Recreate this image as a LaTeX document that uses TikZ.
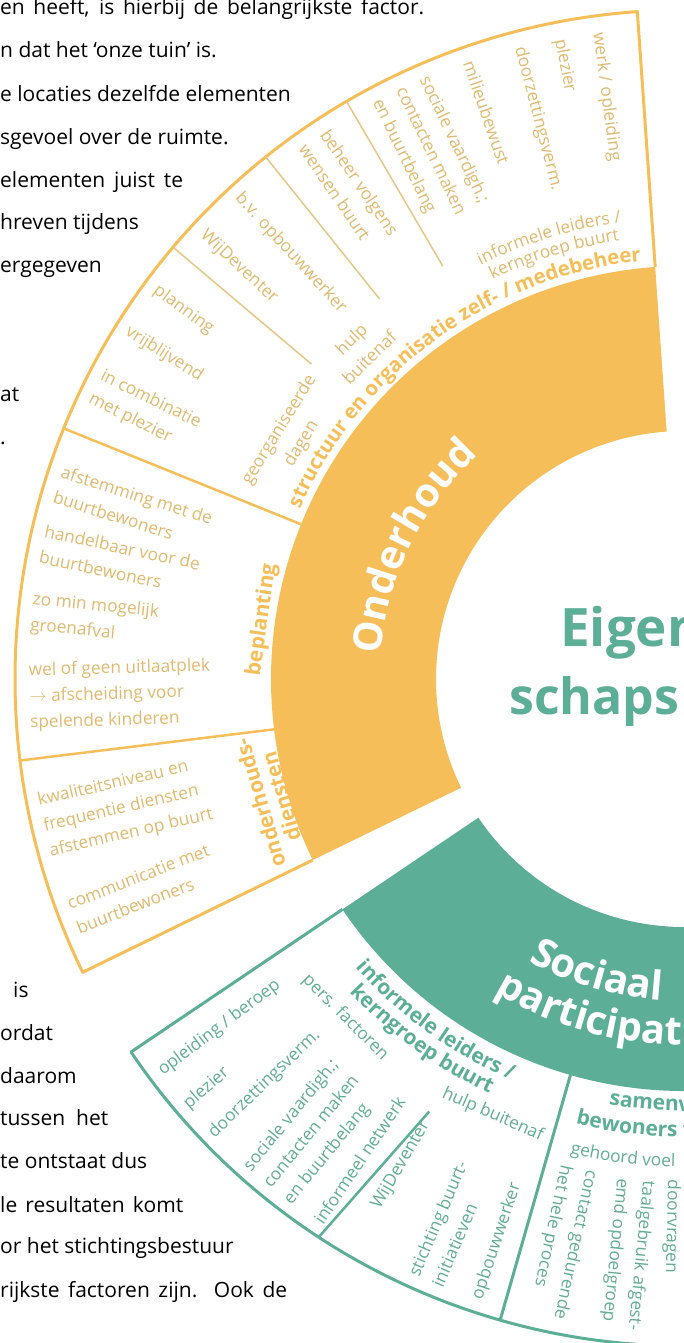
\documentclass[tikz,border=0pt]{standalone}
\usepackage{fontspec}
\setmainfont{Open Sans}
\usetikzlibrary{decorations.text}
\definecolor{O}{RGB}{245,190,88}
\definecolor{Ot}{RGB}{222,186,112}
\definecolor{Ol}{RGB}{228,198,135}
\definecolor{G}{RGB}{92,174,150}
\definecolor{Gt}{RGB}{98,172,148}
\newcommand{\itemfont}{\fontsize{17.3}{26}\selectfont}
\newcommand{\labfont}{\bfseries\fontsize{21}{22}\selectfont}
\newcommand{\bigfont}{\bfseries\fontsize{40}{40}\selectfont}
\tikzset{
  oitem/.style={text=Ot,font=\itemfont,align=left,inner sep=0pt,anchor=west},
  gitem/.style={text=Gt,font=\itemfont,align=left,inner sep=0pt,anchor=west},
  olab/.style={text=O,font=\labfont,align=center,inner sep=0pt},
  body/.style={font=\fontsize{21}{21}\selectfont,inner sep=0pt,anchor=base west},
  arctxt/.style={decorate,decoration={text along path,text align=center,text={#1}}},
  arctxtl/.style={decorate,decoration={text along path,text align=left,text={#1}}}
}
\begin{document}
\begin{tikzpicture}[x=1pt,y=1pt]
  \useasboundingbox (-684,-664) rectangle (0,679);
  \clip (-684,-664) rectangle (0,679);

  %Tekst links
  \node[body] (t1) at (-684,664) {\makebox[424pt][s]{en heeft, is hierbij de belangrijkste factor.}};
  \node[body] (t2) at (-684,621) {n dat het ‘onze tuin’ is.};
  \node[body] (t3) at (-684,577) {e locaties dezelfde elementen};
  \node[body] (t4) at (-684,534) {sgevoel over de ruimte.};
  \node[body] (t5) at (-684,491) {\makebox[183pt][s]{elementen juist te}};
  \node[body] (t6) at (-684,449) {hreven tijdens};
  \node[body] (t7) at (-684,406) {ergegeven};
  \node[body] (t8) at (-684,277) {at};
  \node[body] (t9) at (-684,234) {.};
  \node[body] (b1) at (-671,-318) {is};
  \node[body] (b2) at (-684,-361) {ordat};
  \node[body] (b3) at (-684,-404) {daarom};
  \node[body] (b4) at (-684,-446) {\makebox[108pt][s]{tussen het}};
  \node[body] (b5) at (-684,-489) {te ontstaat dus};
  \node[body] (b6) at (-684,-533) {\makebox[183pt][s]{le resultaten komt}};
  \node[body] (b7) at (-684,-574) {or het stichtingsbestuur};
  \node[body] (b8) at (-684,-618) {\makebox[287pt][s]{rijkste factoren zijn. Ook de}};

  %Ring onderhoud
  \fill[O] (94:248) arc[start angle=94,end angle=206,radius=248] -- (206:413)
    arc[start angle=206,end angle=94,radius=413] -- cycle;
  %Kader onderhoud
  \draw[O,line width=3pt,line join=round] (94:413) -- (94:669)
    arc[start angle=94,end angle=206,radius=669] -- (206:413);
  \draw[O,line width=2.5pt] (158:413) -- (158:669);
  \draw[O,line width=2.5pt] (187:413) -- (187:669);
  \draw[Ol,line width=1.5pt] (120.3:478) -- (120.3:669);
  \draw[Ol,line width=1.5pt] (128.7:487) -- (128.7:669);
  \draw[Ol,line width=1.5pt] (139.8:488) -- (139.8:669);

  %Ring sociaal
  \fill[G] (214:248) arc[start angle=214,end angle=300,radius=248] -- (300:412)
    arc[start angle=300,end angle=214,radius=412] -- cycle;
  %Kader sociaal
  \draw[G,line width=3pt,line join=round] (214:412) -- (214:667)
    arc[start angle=214,end angle=300,radius=667];
  \draw[G,line width=3pt] (254:412) -- (254:667);
  \draw[G,line width=2.5pt] (239.5:502) -- (236.8:667);

  %Ringteksten
  \path[arctxt={|\bigfont\color{white}|Onderhoud}] (184:304) arc[start angle=184,end angle=124,radius=304];
  \path[arctxtl={|\bigfont\color{white}|Sociaal}] (241.1:322) arc[start angle=241.1,end angle=300,radius=322];
  \path[arctxtl={|\bigfont\color{white}|participat}] (238.9:366) arc[start angle=238.9,end angle=300,radius=366];

  %Midden
  \node[text=G,font=\bfseries\fontsize{53}{53}\selectfont,anchor=base west,inner sep=0pt] (eigen) at (-124,32) {Eigen};
  \node[text=G,font=\bfseries\fontsize{50}{50}\selectfont,anchor=base west,inner sep=0pt] (schaps) at (-175,-36) {schaps};

  %Structuur en organisatie
  \path[arctxt={|\bfseries\fontsize{20.3}{21}\selectfont\color{O}|structuur en organisatie zelf- / medebeheer}] (166:420) arc[start angle=166,end angle=86,radius=420];
  \path[arctxt={|\itemfont\color{Ot}|informele leiders /}] (127:461) arc[start angle=127,end angle=87,radius=461];
  \path[arctxt={|\itemfont\color{Ot}|kerngroep buurt}] (127:443) arc[start angle=127,end angle=87,radius=443];
  \node[oitem,rotate=-82.4] (werk) at (97.6:652) {werk / opleiding};
  \node[oitem,rotate=-79] (plezierA) at (101:652) {plezier};
  \node[oitem,rotate=-75.4] (doorzetA) at (104.6:653) {doorzettingsverm.};
  \node[oitem,rotate=-70.8] (milieu) at (109.2:654) {milieubewust};
  \node[oitem,rotate=-64.3] (socialeA) at (115.7:655) {sociale vaardigh.;\\contacten maken\\en buurtbelang};
  \node[oitem,rotate=-55.6] (beheer) at (124.4:655) {beheer volgens\\wensen buurt};
  \node[oitem,rotate=-47.5] (bv) at (132.7:658) {b.v. opbouwwerker};
  \node[oitem,rotate=-42.8] (wijA) at (137.2:656) {WijDeventer};
  \node[oitem,rotate=-36.4] (planning) at (143.6:657) {planning};
  \node[oitem,rotate=-32] (vrij) at (148:657) {vrijblijvend};
  \node[oitem,rotate=-26.4] (combi) at (153.6:657) {in combinatie\\met plezier};
  \node[text=Ot,font=\itemfont,align=center,inner sep=0pt,rotate=44.4] (hulpA) at (134.4:463) {hulp\\buitenaf};
  \node[text=Ot,font=\itemfont,align=center,inner sep=0pt,rotate=58.4] (georg) at (148.4:462) {georganiseerde\\dagen};

  %Beplanting
  \node[olab,rotate=82] (beplanting) at (172:426) {beplanting};
  \node[oitem,rotate=-17.3] (afstem) at (162.7:656) {afstemming met de\\buurtbewoners};
  \node[oitem,rotate=-11.9] (handel) at (168.1:656) {handelbaar voor de\\buurtbewoners};
  \node[oitem,rotate=-5.8] (zomin) at (174.2:656) {zo min mogelijk\\groenafval};
  \node[oitem,rotate=1.6] (uitlaat) at (181.6:655) {wel of geen uitlaatplek\\$\rightarrow$ afscheiding voor\\spelende kinderen};

  %Onderhoudsdiensten
  \node[olab,rotate=106.3] (diensten) at (196.3:431) {onderhouds-\\diensten};
  \node[oitem,rotate=13] (kwalit) at (193:657) {kwaliteitsniveau en\\frequentie diensten\\afstemmen op buurt};
  \node[oitem,rotate=21.2] (commu) at (201.2:656) {communicatie met\\buurtbewoners};

  %Informele leiders sociaal
  \path[arctxt={|\labfont\color{G}|informele leiders /}] (204:437) arc[start angle=204,end angle=264,radius=437];
  \path[arctxt={|\labfont\color{G}|kerngroep buurt}] (204:458) arc[start angle=204,end angle=264,radius=458];
  \node[text=Gt,font=\itemfont,inner sep=0pt,rotate=-45] (pers) at (225:479) {pers. factoren};
  \node[text=Gt,font=\itemfont,inner sep=0pt,rotate=-23.7] (hulpB) at (246.3:476) {hulp buitenaf};
  \node[gitem,rotate=36.9] (opleid) at (216.9:655) {opleiding / beroep};
  \node[gitem,rotate=40.6] (plezierB) at (220.6:656) {plezier};
  \node[gitem,rotate=44] (doorzetB) at (224:657) {doorzettingsverm.};
  \node[gitem,rotate=50.6] (socialeB) at (230.6:656) {sociale vaardigh.;\\contacten maken\\en buurtbelang};
  \node[gitem,rotate=56] (informeel) at (236:655) {informeel netwerk};
  \node[gitem,rotate=59.8] (wijB) at (239.8:612) {WijDeventer};
  \node[gitem,rotate=66.7] (stichting) at (246.7:655) {stichting buurt-\\initiatieven};
  \node[gitem,rotate=71.6] (opbouw) at (251.6:654) {opbouwwerker};

  %Samenwerking
  \path[arctxtl={|\labfont\color{G}|samenw}] (260:432) arc[start angle=260,end angle=300,radius=432];
  \path[arctxtl={|\labfont\color{G}|bewoners f}] (256.3:458) arc[start angle=256.3,end angle=300,radius=458];
  \path[arctxtl={|\itemfont\color{Gt}|gehoord voel}] (256.5:488) arc[start angle=256.5,end angle=300,radius=488];
  \node[gitem,rotate=257.8] (contact) at (257.8:500) {contact gedurende\\het hele proces};
  \node[gitem,rotate=264.4] (taal) at (264.4:503) {taalgebruik afgest-\\emd opdoelgroep};
  \node[gitem,rotate=268.7] (door) at (268.7:501) {doorvragen};
\end{tikzpicture}
\end{document}
